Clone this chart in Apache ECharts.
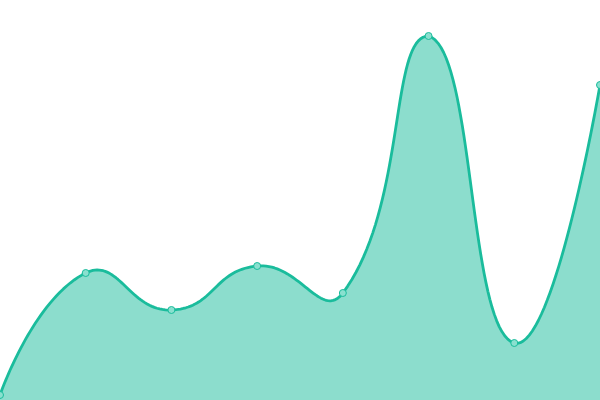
<!DOCTYPE html>
<html>
<head>
<meta charset="utf-8">
<script src="https://cdn.jsdelivr.net/npm/echarts@6/dist/echarts.min.js"></script>
<style>
  html, body { margin: 0; padding: 0; background: #fff; }
  #main { width: 600px; height: 400px; }
</style>
</head>
<body>
<div id="main"></div>
<script>
var chart = echarts.init(document.getElementById('main'));

var categories = ['1', '2', '3', '4', '5', '6', '7', '8'];
var values = [5, 127, 90, 134, 107, 364, 57, 315];

var lineColor = '#1abc9c';
var smooth = 0.5;

// pairs for the custom series, built from the arrays above
var points = values.map(function (v, i) { return [i, v]; });

// cubic bezier sampled into a list of points
function sampleBezier(p0, c0, c1, p1, n, out) {
    for (var k = 1; k <= n; k++) {
        var t = k / n, u = 1 - t;
        var a = u * u * u, b = 3 * u * u * t, c = 3 * u * t * t, d = t * t * t;
        out.push([
            a * p0[0] + b * c0[0] + c * c1[0] + d * p1[0],
            a * p0[1] + b * c0[1] + c * c1[1] + d * p1[1]
        ]);
    }
}

// smooth curve through pixel points (control points from neighbours,
// kept inside the bounding box of the points)
function smoothCurve(pts) {
    var minX = Infinity, minY = Infinity, maxX = -Infinity, maxY = -Infinity;
    pts.forEach(function (p) {
        minX = Math.min(minX, p[0]); maxX = Math.max(maxX, p[0]);
        minY = Math.min(minY, p[1]); maxY = Math.max(maxY, p[1]);
    });
    function clamp(c) {
        return [Math.min(maxX, Math.max(minX, c[0])), Math.min(maxY, Math.max(minY, c[1]))];
    }
    var out = [pts[0]];
    var cp0 = pts[0].slice();
    for (var i = 1; i < pts.length; i++) {
        var p = pts[i], prev = pts[i - 1], next = pts[i + 1];
        var cp1, v = [0, 0], ratio = 0.5;
        if (!next) {
            cp1 = p.slice();
        } else {
            v = [next[0] - prev[0], next[1] - prev[1]];
            var lenPrev = Math.hypot(p[0] - prev[0], p[1] - prev[1]);
            var lenNext = Math.hypot(next[0] - p[0], next[1] - p[1]);
            ratio = lenNext / (lenNext + lenPrev);
            cp1 = [p[0] - v[0] * smooth * (1 - ratio), p[1] - v[1] * smooth * (1 - ratio)];
        }
        sampleBezier(prev, clamp(cp0), clamp(cp1), p, 40, out);
        cp0 = [p[0] + v[0] * smooth * ratio, p[1] + v[1] * smooth * ratio];
    }
    return out;
}

function renderArea(params, api) {
    if (params.dataIndex !== 0) return null;
    var pts = points.map(function (d) { return api.coord(d); });
    var curve = smoothCurve(pts);
    var baseY = api.coord([0, 0])[1];
    var area = curve.concat([[pts[pts.length - 1][0], baseY], [pts[0][0], baseY]]);
    return {
        type: 'group',
        children: [{
            type: 'polygon',
            shape: { points: area },
            style: { fill: lineColor, opacity: 0.5 }
        }, {
            type: 'polyline',
            shape: { points: curve },
            style: { stroke: lineColor, lineWidth: 2.8, fill: null, lineJoin: 'round' }
        }]
    };
}

var option = {
    animation: false,
    grid: { left: 0, right: 0, top: 0, bottom: 0 },
    xAxis: {
        type: 'category',
        boundaryGap: false,
        data: categories,
        show: false
    },
    yAxis: {
        type: 'value',
        min: 0,
        max: 400,
        show: false
    },
    series: [{
        type: 'custom',
        renderItem: renderArea,
        data: points,
        encode: { x: 0, y: 1 },
        clip: false,
        z: 1
    }, {
        type: 'scatter',
        data: values,
        symbol: 'circle',
        symbolSize: 7,
        itemStyle: { color: '#8ae0cf', borderColor: lineColor, borderWidth: 1, opacity: 1 },
        z: 2
    }]
};

chart.setOption(option);
</script>
</body>
</html>
